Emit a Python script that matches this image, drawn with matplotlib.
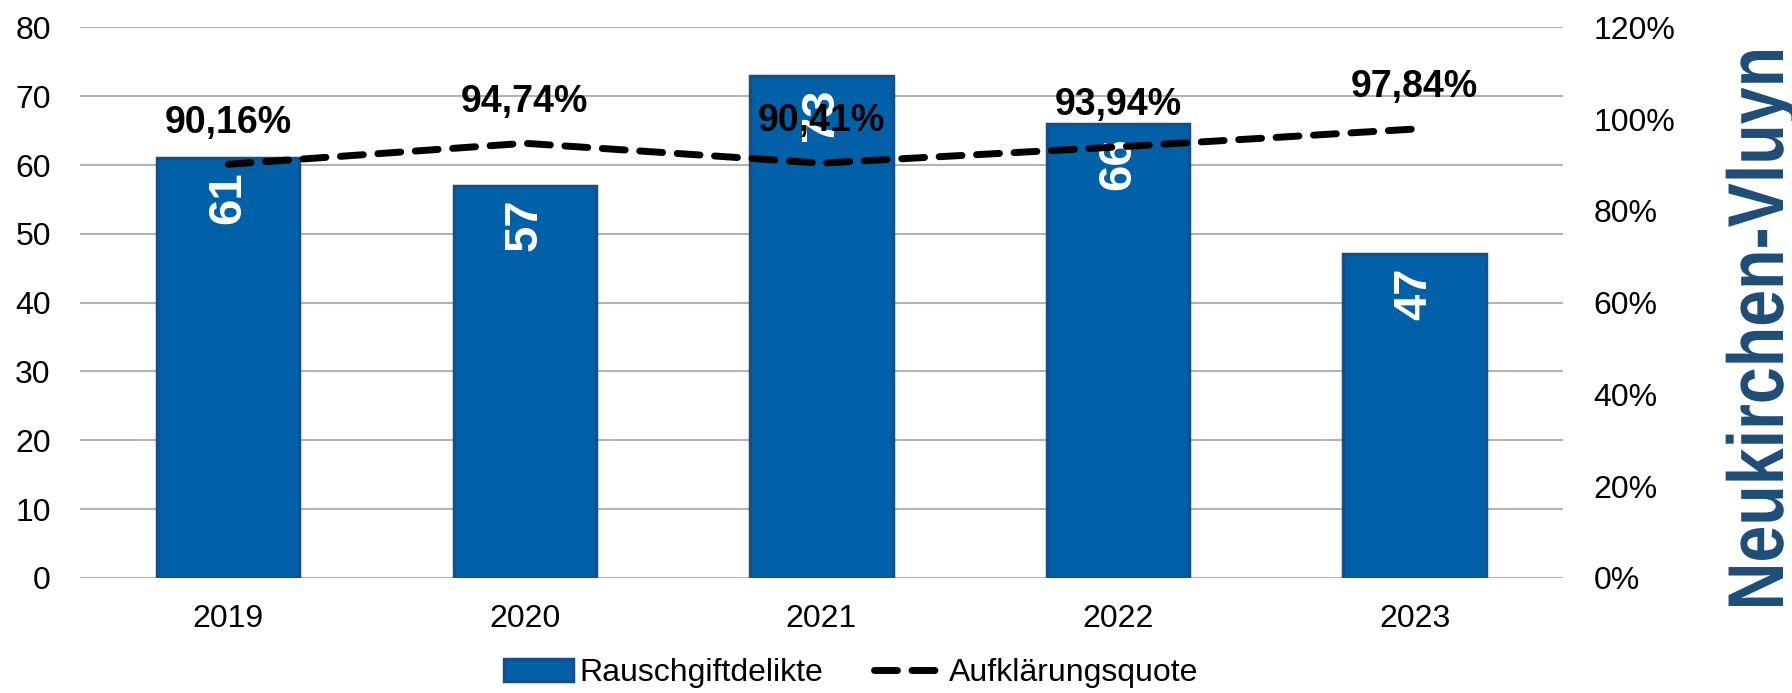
import matplotlib
matplotlib.use("Agg")
from matplotlib import pyplot as plt
from matplotlib.ticker import FuncFormatter, MultipleLocator
from matplotlib.textpath import TextPath
from matplotlib.font_manager import FontProperties
from matplotlib.patches import PathPatch
from matplotlib.transforms import Affine2D, IdentityTransform

years = ["2019", "2020", "2021", "2022", "2023"]
delikte = [61, 57, 73, 66, 47]
quote = [90.16, 94.74, 90.41, 93.94, 97.84]
quote_labels = ["90,16%", "94,74%", "90,41%", "93,94%", "97,84%"]
title = "Neukirchen-Vluyn"

plt.rcParams["font.family"] = ["Liberation Sans", "DejaVu Sans"]
bar_color = "#0060A8"
edge_color = "#124F8C"
grid_color = "#B3B3B3"

W, H = 1792, 693
fig = plt.figure(figsize=(W / 100, H / 100), dpi=100)
ax = fig.add_axes([0.0446, 0.166, 0.8275, 0.7945])
ax2 = ax.twinx()

x = list(range(len(years)))
bars = ax.bar(x, delikte, width=0.48, color=bar_color, edgecolor=edge_color,
              linewidth=2.5, label="Rauschgiftdelikte", zorder=2)
ax.set_xlim(-0.5, 4.5)
ax.set_ylim(0, 80)
ax.yaxis.set_major_locator(MultipleLocator(10))
ax.grid(axis="y", color=grid_color, linewidth=1.5, zorder=0)
ax.set_axisbelow(True)
ax.set_xticks(x, years)
ax.tick_params(length=0, labelsize=23)
ax.tick_params(axis="x", pad=19)
ax.tick_params(axis="y", pad=21)
for s in ax.spines.values():
    s.set_visible(False)

for xi, v in zip(x, delikte):
    ax.text(xi, v - 1.9, str(v), rotation=90, ha="center", va="top",
            color="white", fontsize=34, fontweight="bold", zorder=3)

line, = ax2.plot(x, quote, color="black", linewidth=5, linestyle=(0, (3.3, 2.1)),
                 dash_capstyle="round", label="Aufklärungsquote", zorder=4)
ax2.set_ylim(0, 120)
ax2.yaxis.set_major_locator(MultipleLocator(20))
ax2.yaxis.set_major_formatter(FuncFormatter(lambda v, p: f"{v:.0f}%"))
ax2.tick_params(length=0, labelsize=23, pad=22)
for s in ax2.spines.values():
    s.set_visible(False)

for xi, v, lab in zip(x, quote, quote_labels):
    ax2.annotate(lab, (xi, v), xytext=(0, 30), textcoords="offset points",
                 ha="center", va="center", fontsize=27, fontweight="bold",
                 color="black", zorder=5)

# condensed vertical title, squeezed to fit its box (pixels from bottom-left)
tp = TextPath((0, 0), title, size=100,
              prop=FontProperties(family="Liberation Sans", weight="bold"))
ext = tp.get_extents()
length_px = 555
cap_px = 57
sx = length_px / ext.width
sy = cap_px / 72.0
tr = (Affine2D().translate(-ext.x0, 0).scale(sx, sy).rotate_deg(90)
      .translate(1783, H - 606))
fig.patches.append(PathPatch(tp, transform=tr + IdentityTransform(),
                             facecolor="#1F4E79", edgecolor="none",
                             figure=fig))

fig.legend([bars, line], ["Rauschgiftdelikte", "Aufklärungsquote"],
           loc="center", bbox_to_anchor=(0.475, 0.029), ncol=2, frameon=False,
           fontsize=23, handlelength=2.15, handletextpad=0.2, columnspacing=1.6)

fig.savefig("out.png", dpi=100)
